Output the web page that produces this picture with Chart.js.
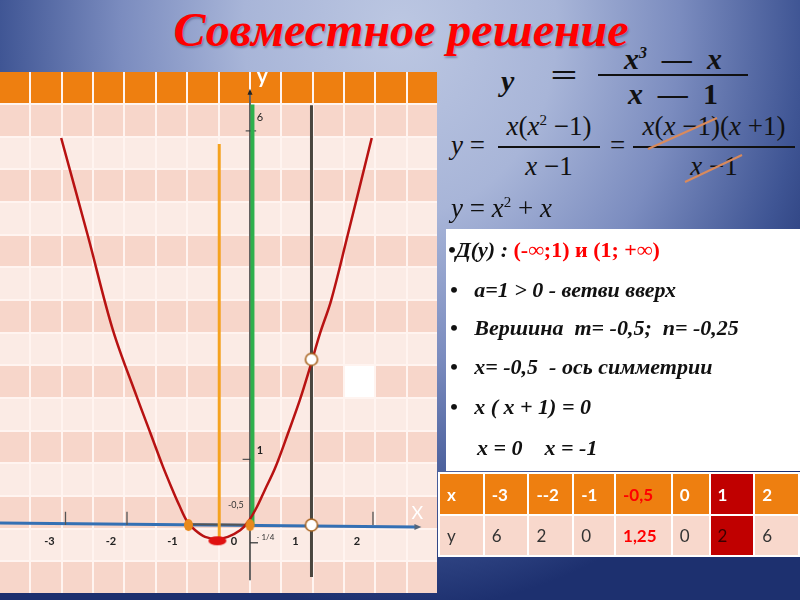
<!DOCTYPE html>
<html>
<head>
<meta charset="utf-8">
<script src="https://cdn.jsdelivr.net/npm/chart.js@4.4.1/dist/chart.umd.min.js"></script>
<style>
  body{margin:0;width:800px;height:600px;overflow:hidden;position:relative;
    background:radial-gradient(ellipse 490px 580px at 400px 30px,#bcc7e2 0%,#a8b5d8 32%,#7b8cbf 57%,#3f5594 82%,#1d306f 100%);
    font-family:"Liberation Serif",serif}
  .abs{position:absolute;white-space:nowrap}
  #title{left:0;width:802px;top:2px;text-align:center;color:#ff0000;font:bold italic 48px "Liberation Serif",serif;
    text-shadow:1px 2px 2px rgba(40,40,80,.35)}
  #grid{left:0;top:72px;width:437px;height:521px;display:grid;background:#fff4f0;gap:2px;
    grid-template-columns:repeat(14,1fr);grid-template-rows:31px repeat(15,1fr)}
  #grid div.h{background:#ee7f10}
  #grid div.d{background:#f7d6ca}
  #grid div.l{background:#fbebe5}
  #grid div.w{background:#ffffff}
  #c{position:absolute;left:0;top:72px}
  .f1{font:bold italic 30px "Liberation Serif",serif;color:#111}
  .f2{font:27px "Liberation Serif",serif;color:#111}
  .f2 i{font-style:italic}
  .bar{position:absolute;height:1.5px;background:#111}
  #box{left:446px;top:229px;width:354px;height:242px;background:#fff}
  .li{font:bold italic 22px "Liberation Serif",serif;color:#111}
  .red{color:#ff0000;font-style:normal}
  #tbl{left:438px;top:472px;border-collapse:collapse;font:17px Lato,"Liberation Sans",sans-serif}
  #tbl td{border:2px solid #fff;padding:0 0 0 7px;height:40px}
  #tbl tr.hd td{background:#ee7f10;color:#fff;font-weight:bold}
  #tbl tr.rw td{background:#f8d8cc;color:#333}
</style>
</head>
<body>
<div id="title" class="abs">Совместное решение</div>

<div id="grid" class="abs"></div>
<canvas id="c" width="437" height="521"></canvas>

<!-- formulas -->
<div class="abs f1" style="left:501px;top:64px">y</div>
<div class="abs f1" style="left:550px;top:58px;transform:scaleX(1.6);transform-origin:left">=</div>
<div class="abs f1" style="left:598px;width:150px;text-align:center;top:42px">x<sup style="font-size:16px">3</sup> &nbsp;— &nbsp;x</div>
<div class="bar" style="left:598px;top:74px;width:150px;height:2px"></div>
<div class="abs f1" style="left:598px;width:150px;text-align:center;top:77px">x &nbsp;— &nbsp;<span style="font-style:normal">1</span></div>

<div class="abs f2" style="left:451px;top:130px"><i>y</i> =</div>
<div class="abs f2" style="left:496px;width:106px;text-align:center;top:111px"><i>x</i>(<i>x</i><sup style="font-size:15px">2</sup> −1)</div>
<div class="bar" style="left:498px;top:146px;width:102px"></div>
<div class="abs f2" style="left:496px;width:106px;text-align:center;top:151px"><i>x</i> −1</div>
<div class="abs f2" style="left:610px;top:130px">=</div>
<div class="abs f2" style="left:631px;width:166px;text-align:center;top:111px"><i>x</i>(<i>x</i> −1)(<i>x</i> +1)</div>
<div class="bar" style="left:633px;top:146px;width:162px"></div>
<div class="abs f2" style="left:631px;width:166px;text-align:center;top:151px"><i>x</i> −1</div>
<svg class="abs" style="left:0;top:0" width="800" height="600">
  <line x1="648" y1="149" x2="717" y2="118" stroke="#d98a5c" stroke-width="2"/>
  <line x1="685" y1="182" x2="742" y2="155" stroke="#d98a5c" stroke-width="2"/>
</svg>
<div class="abs f2" style="left:451px;top:193px"><i>y</i> = <i>x</i><sup style="font-size:15px">2</sup> + <i>x</i></div>

<div id="box" class="abs"></div>
<div class="abs li" style="left:448px;top:237px">•Д(у) : <span class="red">(-∞;1) и (1; +∞)</span></div>
<div class="abs li" style="left:450px;top:277px">•&nbsp;&nbsp; a=1 &gt; 0 - ветви вверх</div>
<div class="abs li" style="left:450px;top:315px">•&nbsp;&nbsp; Вершина&nbsp; m= -0,5;&nbsp; n= -0,25</div>
<div class="abs li" style="left:450px;top:354px">•&nbsp;&nbsp; x= -0,5&nbsp; - ось симметрии</div>
<div class="abs li" style="left:450px;top:394px">•&nbsp;&nbsp; x ( x + 1) = 0</div>
<div class="abs li" style="left:477px;top:435px">x = 0&nbsp;&nbsp;&nbsp; x = -1</div>

<table id="tbl" class="abs"></table>

<script>
const curveX = [-3.07, -2.63, -2.23, -1.84, -1.62, -1.42, -1.28, -1.15, -1.02, -0.89, -0.73, -0.54, -0.36, -0.16, -0.03, 0.11, 0.24, 0.41, 0.62, 0.81, 0.97, 1.14, 1.32, 1.58, 1.98];
const curveY = [5.89, 4.38, 2.97, 1.95, 1.40, 0.90, 0.58, 0.30, 0.05, -0.08, -0.18, -0.21, -0.18, -0.08, 0.05, 0.27, 0.53, 0.87, 1.40, 1.90, 2.38, 2.92, 3.42, 4.38, 5.89];

// axis and helper lines: [x1, y1, x2, y2]
const xAxisLine = [-4.07, 0.03, 2.69, -0.03];
const yAxisLine = [0, -0.84, 0, 6.58];
const symLine = [-0.5, -0.23, -0.5, 5.8];      // x = -0.5
const greenLine = [0.04, 0, 0.04, 6.4];
const holeLine = [1, -0.79, 1, 6.39];          // x = 1

const xTicks = [-3, -2, -0.5, 2];
const xTickLabels = [-3, -2, -1, 0, 1, 2];
const rootX = [-1, 0];
const vertex = [-0.53, -0.24];
const holesX = [1, 1];
const holesY = [2.52, 0];

// value table
const tblX = ['x', '-3', '--2', '-1', '-0,5', '0', '1', '2'];
const tblY = ['y', '6', '2', '0', '1,25', '0', '2', '6'];

// background grid of the slide
const grid = document.getElementById('grid');
for (let r = 0; r < 16; r++) {
  for (let k = 0; k < 14; k++) {
    const d = document.createElement('div');
    d.className = r == 0 ? 'h' : (r == 9 && k == 11 ? 'w' : (r % 2 ? 'd' : 'l'));
    grid.appendChild(d);
  }
}

// table on the right
const widths = [45, 45, 45, 42, 57, 38, 45, 45];
const tbl = document.getElementById('tbl');
[tblX, tblY].forEach((row, i) => {
  const tr = document.createElement('tr');
  tr.className = i == 0 ? 'hd' : 'rw';
  row.forEach((v, j) => {
    const td = document.createElement('td');
    td.textContent = v;
    td.style.width = (widths[j] - 9) + 'px';
    if (i == 1) td.style.height = '39px';
    if (j == 4) { td.style.color = '#ff0000'; td.style.fontWeight = 'bold'; }
    if (j == 6) { td.style.background = '#c00000'; td.style.color = i == 0 ? '#fff' : '#3a0000'; }
    tr.appendChild(td);
  });
  tbl.appendChild(tr);
});

const seg = a => [{x: a[0], y: a[1]}, {x: a[2], y: a[3]}];

function ellipse(w, h, fill, stroke) {
  const c = document.createElement('canvas');
  c.width = w + 4; c.height = h + 4;
  const g = c.getContext('2d');
  g.beginPath();
  g.ellipse(c.width / 2, c.height / 2, w / 2, h / 2, 0, 0, Math.PI * 2);
  g.fillStyle = fill; g.fill();
  if (stroke) { g.lineWidth = 1.6; g.strokeStyle = stroke; g.stroke(); }
  return c;
}

const tickData = [];
xTicks.forEach(v => { tickData.push({x: v, y: 0}, {x: v, y: 0.2}, {x: v, y: null}); });
tickData.push({x: -0.07, y: 6}, {x: 0.1, y: 6}, {x: 0, y: null});
tickData.push({x: -0.12, y: 1}, {x: 0.05, y: 1}, {x: 0, y: null});
tickData.push({x: 0, y: -0.27}, {x: 0.13, y: -0.27});

const textPlugin = {
  id: 'texts',
  afterDatasetsDraw(chart) {
    const ctx = chart.ctx, xs = chart.scales.x, ys = chart.scales.y;
    const put = (t, x, y, font, color) => {
      ctx.font = font; ctx.fillStyle = color;
      ctx.textAlign = 'center'; ctx.textBaseline = 'middle';
      ctx.fillText(t, xs.getPixelForValue(x), ys.getPixelForValue(y));
    };
    ctx.save();
    xTickLabels.forEach(v => put(String(v), v - 0.26, -0.25, 'bold 11px Lato', '#222'));
    put('6', 0.16, 6.2, '11px Lato', '#222');
    put('1', 0.16, 1.14, 'bold 11px Lato', '#222');
    put('-0,5', -0.23, 0.3, '9px Lato', '#333');
    put('- 1/4', 0.25, -0.19, '8px Lato', '#333');
    put('X', 2.72, 0.18, '18px Lato', '#ffffff');
    put('y', 0.2, 6.83, 'bold 21px Lato', '#ffffff');
    // arrow heads
    const ax = xs.getPixelForValue(xAxisLine[2]), ay = ys.getPixelForValue(xAxisLine[3]);
    ctx.fillStyle = '#55657a';
    ctx.beginPath(); ctx.moveTo(ax + 6, ay); ctx.lineTo(ax - 1, ay - 3); ctx.lineTo(ax - 1, ay + 3); ctx.fill();
    const bx = xs.getPixelForValue(yAxisLine[2]), by = ys.getPixelForValue(yAxisLine[3]);
    ctx.fillStyle = '#222';
    ctx.beginPath(); ctx.moveTo(bx, by - 4); ctx.lineTo(bx - 2.5, by + 2); ctx.lineTo(bx + 2.5, by + 2); ctx.fill();
    ctx.restore();
  }
};

const line = (data, color, width, order) => ({data, borderColor: color, borderWidth: width, showLine: true, pointRadius: 0, order, spanGaps: false});

new Chart(document.getElementById('c'), {
  type: 'scatter',
  data: {
    datasets: [
      {data: holesX.map((x, i) => ({x, y: holesY[i]})), pointStyle: ellipse(12, 12, '#ffffff', '#a8641f'), pointRadius: 6, order: 0},
      {data: [{x: vertex[0], y: vertex[1]}], pointStyle: ellipse(18, 9, '#e01010'), pointRadius: 8, order: 1},
      {data: rootX.map(x => ({x, y: 0})), pointStyle: ellipse(9, 12, '#e8891c'), pointRadius: 6, order: 2},
      Object.assign(line(curveX.map((x, i) => ({x, y: curveY[i]})), '#b81212', 2.5, 3), {tension: 0.35}),
      line(seg(symLine), '#f5a21e', 3, 4),
      line(seg(greenLine), '#2eb04c', 4, 5),
      line(seg(holeLine), '#4a463f', 3, 6),
      line(seg(yAxisLine), '#333333', 1.5, 7),
      line(tickData, '#555555', 1.3, 8),
      line(seg(xAxisLine), '#3470b4', 3, 9),
      line(seg([-1, 0.01, 0, 0.005]), '#555555', 2, 8.5)
    ]
  },
  options: {
    responsive: false,
    animation: false,
    events: [],
    layout: {padding: 0, autoPadding: false},
    plugins: {legend: {display: false}, tooltip: {enabled: false}},
    scales: {
      x: {type: 'linear', display: false, min: -4.065, max: 3.041},
      y: {type: 'linear', display: false, min: -1.035, max: 6.895}
    }
  },
  plugins: [textPlugin]
});
</script>
</body>
</html>
